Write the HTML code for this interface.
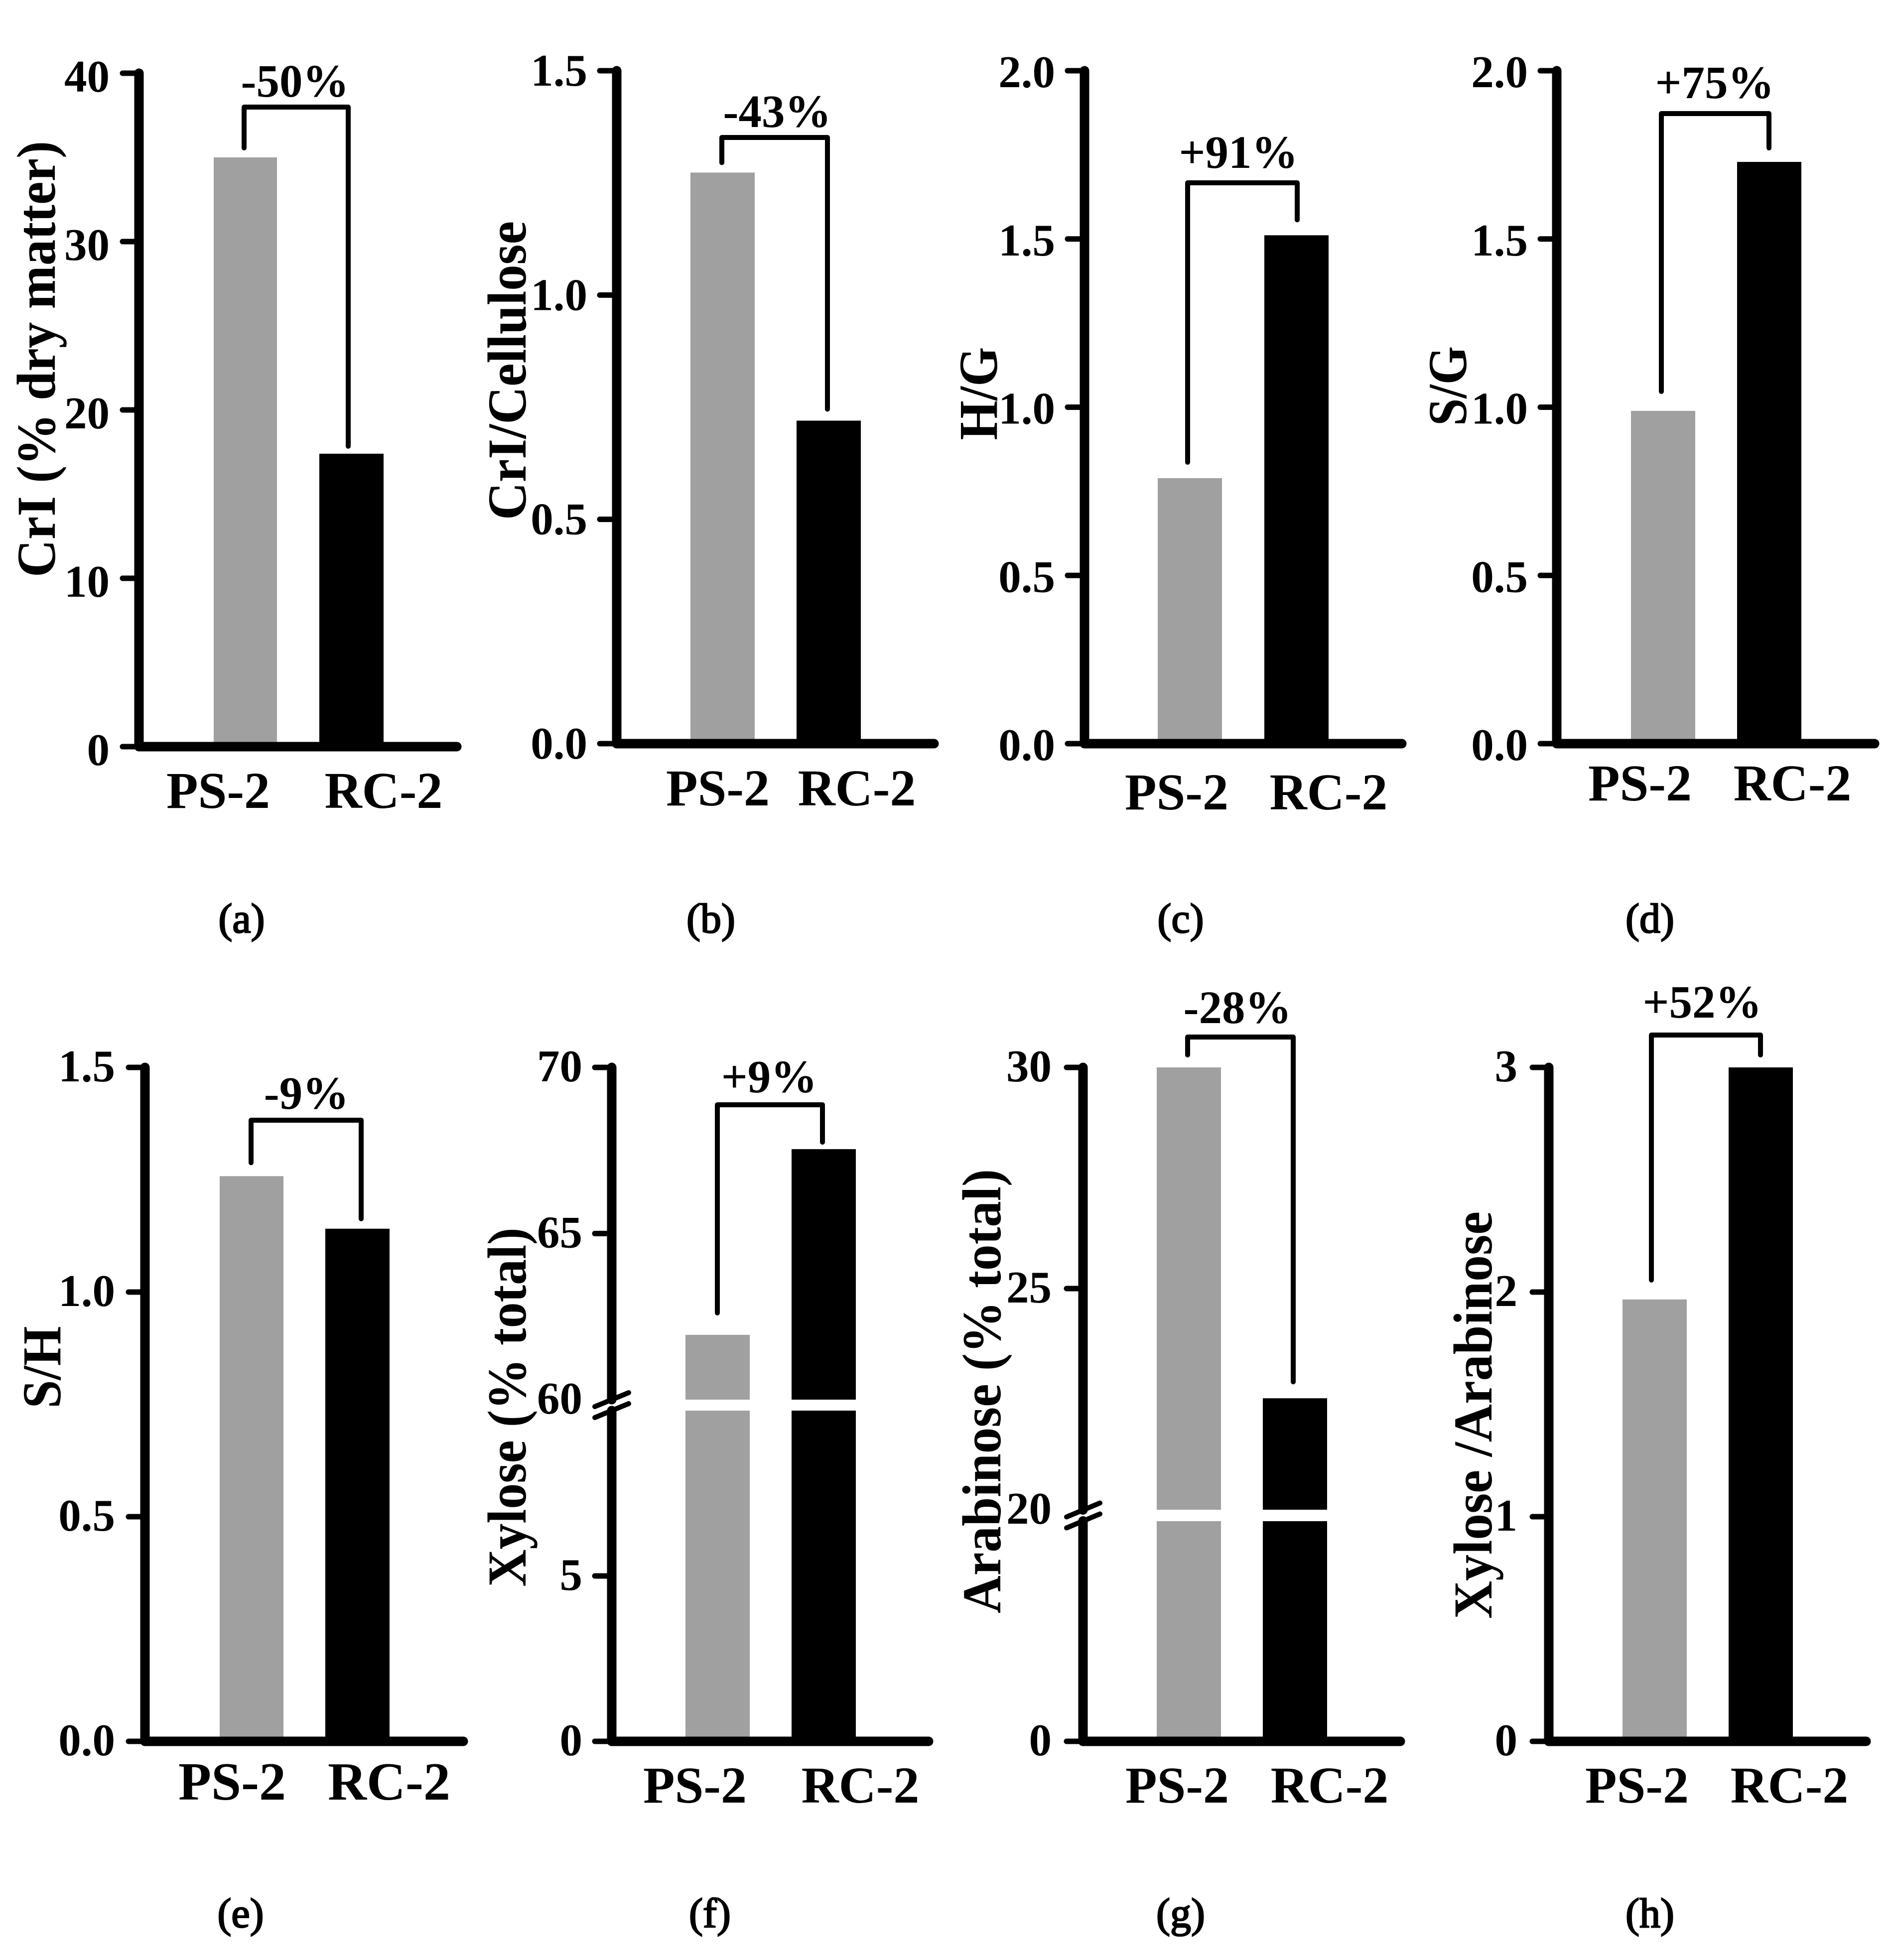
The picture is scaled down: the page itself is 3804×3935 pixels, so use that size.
<!DOCTYPE html>
<html lang="en">
<head>
<meta charset="utf-8">
<title>Biomass feature comparison PS-2 vs RC-2</title>
<style>
html,body{margin:0;padding:0;background:#fff;}
svg{display:block;}
text{font-family:"Liberation Serif",serif;font-weight:bold;fill:#000;}
</style>
</head>
<body>
<svg id="figure" xmlns="http://www.w3.org/2000/svg" width="3804" height="3935" viewBox="0 0 3804 3935"></svg>
<script>
// ---------- Data ----------
const categories = ['PS-2', 'RC-2'];

const crIValues = [35.0, 17.4];
const crITicks = ['0', '10', '20', '30', '40'];
const crIChange = '-50%';

const crICelluloseValues = [1.273, 0.72];
const crICelluloseTicks = ['0.0', '0.5', '1.0', '1.5'];
const crICelluloseChange = '-43%';

const hgValues = [0.789, 1.511];
const hgTicks = ['0.0', '0.5', '1.0', '1.5', '2.0'];
const hgChange = '+91%';

const sgValues = [0.989, 1.729];
const sgTicks = ['0.0', '0.5', '1.0', '1.5', '2.0'];
const sgChange = '+75%';

const shValues = [1.258, 1.141];
const shTicks = ['0.0', '0.5', '1.0', '1.5'];
const shChange = '-9%';

const xyloseValues = [61.95, 67.54];
const xyloseTicks = ['0', '5', '60', '65', '70'];
const xyloseChange = '+9%';

const arabinoseValues = [30, 22.52];
const arabinoseTicks = ['0', '20', '25', '30'];
const arabinoseChange = '-28%';

const xyloseArabinoseValues = [1.967, 3];
const xyloseArabinoseTicks = ['0', '1', '2', '3'];
const xyloseArabinoseChange = '+52%';

// ---------- Layout (pixels only, no data) ----------
const panels = [
  {id:'a', title:'CrI (% dry matter)', values:crIValues, ticks:crITicks, change:crIChange,
   domain:[[0,40]], range:[[1499,147]], axisX:279, axisEnd:917, tickLeft:246, tickRight:220, tickDy:37,
   bars:[[429,556],[641,770]], bracketX:[490,699], bracketY:215, legGap:[14,10],
   changeX:592, changeY:194, catX:[438,770], catY:1622, catSize:104,
   titleX:110, titleY:721, titleLen:876, caption:'(a)', capX:485, capY:1872},
  {id:'b', title:'CrI/Cellulose', values:crICelluloseValues, ticks:crICelluloseTicks, change:crICelluloseChange,
   domain:[[0,1.5]], range:[[1493,142]], axisX:1238, axisEnd:1875, tickLeft:1204, tickRight:1179, tickDy:30,
   bars:[[1386,1515],[1599,1728]], bracketX:[1449,1661], bracketY:276, legGap:[15,18],
   changeX:1560, changeY:255, catX:[1441,1720], catY:1617, catSize:104,
   titleX:1055, titleY:744, titleLen:600, caption:'(b)', capX:1427, capY:1872},
  {id:'c', title:'H/G', values:hgValues, ticks:hgTicks, change:hgChange,
   domain:[[0,2]], range:[[1493,142]], axisX:2177, axisEnd:2814, tickLeft:2143, tickRight:2118, tickDy:33,
   bars:[[2324,2453],[2538,2667]], bracketX:[2384,2604], bracketY:367, legGap:[27,26],
   changeX:2486, changeY:337, catX:[2362,2667], catY:1625, catSize:104,
   titleX:2001, titleY:790, titleLen:187, caption:'(c)', capX:2370, capY:1872},
  {id:'d', title:'S/G', values:sgValues, ticks:sgTicks, change:sgChange,
   domain:[[0,2]], range:[[1493,142]], axisX:3125, axisEnd:3763, tickLeft:3092, tickRight:3067, tickDy:33,
   bars:[[3274,3403],[3487,3616]], bracketX:[3335,3551], bracketY:228, legGap:[34,23],
   changeX:3442, changeY:197, catX:[3292,3598], catY:1607, catSize:104,
   titleX:2943, titleY:775, titleLen:160, caption:'(d)', capX:3312, capY:1872},
  {id:'e', title:'S/H', values:shValues, ticks:shTicks, change:shChange,
   domain:[[0,1.5]], range:[[3496,2143]], axisX:291, axisEnd:930, tickLeft:258, tickRight:231, tickDy:28,
   bars:[[441,569],[653,782]], bracketX:[504,725], bracketY:2249, legGap:[22,15],
   changeX:615, changeY:2226, catX:[466,781], catY:3613, catSize:108,
   titleX:121, titleY:2745, titleLen:165, caption:'(e)', capX:483, capY:3869},
  {id:'f', title:'Xylose (% total)', values:xyloseValues, ticks:xyloseTicks, change:xyloseChange,
   domain:[[0,10],[60,70]], range:[[3496,2832],[2810,2143]], axisX:1228, axisEnd:1864, tickLeft:1194, tickRight:1169, tickDy:28,
   bars:[[1376,1505],[1589,1718]], bracketX:[1440,1651], bracketY:2218, legGap:[39,9],
   changeX:1544, changeY:2193, catX:[1395,1727], catY:3619, catSize:104,
   titleX:1055, titleY:2825, titleLen:721, caption:'(f)', capX:1425, capY:3869},
  {id:'g', title:'Arabinose (% total)', values:arabinoseValues, ticks:arabinoseTicks, change:arabinoseChange,
   domain:[[0,20],[20,30]], range:[[3496,3054],[3031,2143]], axisX:2174, axisEnd:2811, tickLeft:2141, tickRight:2111, tickDy:28,
   bars:[[2322,2451],[2535,2664]], bracketX:[2384,2596], bracketY:2082, legGap:[20,28],
   changeX:2484, changeY:2054, catX:[2363,2669], catY:3619, catSize:104,
   titleX:2008, titleY:2793, titleLen:892, caption:'(g)', capX:2370, capY:3869},
  {id:'h', title:'Xylose /Arabinose', values:xyloseArabinoseValues, ticks:xyloseArabinoseTicks, change:xyloseArabinoseChange,
   domain:[[0,3]], range:[[3496,2143]], axisX:3109, axisEnd:3746, tickLeft:3076, tickRight:3046, tickDy:28,
   bars:[[3257,3386],[3470,3599]], bracketX:[3315,3534], bracketY:2078, legGap:[34,20],
   changeX:3417, changeY:2043, catX:[3286,3592], catY:3619, catSize:104,
   titleX:2994, titleY:2841, titleLen:818, caption:'(h)', capX:3312, capY:3869}
];

const barColors = ['#a0a0a0', '#000000'];
const NS = 'http://www.w3.org/2000/svg';
const figure = document.getElementById('figure');

function svgEl(tag, attrs, parent) {
  const el = document.createElementNS(NS, tag);
  for (const k in attrs) el.setAttribute(k, attrs[k]);
  parent.appendChild(el);
  return el;
}

// Piecewise linear y axis; one segment per unbroken part of the axis.
function makeYScale(domain, range) {
  return function (v) {
    let i = 0;
    for (let s = 0; s < domain.length; s++) if (v >= domain[s][0]) i = s;
    const d = domain[i], r = range[i];
    return r[0] + (v - d[0]) / (d[1] - d[0]) * (r[1] - r[0]);
  };
}

panels.forEach(function (p) {
  const y = makeYScale(p.domain, p.range);
  const broken = p.domain.length > 1;
  const bottom = p.range[0][0];
  const top = p.range[p.range.length - 1][1];
  const breakY = broken ? (p.range[0][1] + p.range[1][0]) / 2 : 0;

  const g = svgEl('g', {}, figure);
  
  

  // Bars
  p.values.forEach(function (v, i) {
    const yTop = y(v);
    const x0 = p.bars[i][0], w = p.bars[i][1] - p.bars[i][0];
    if (broken && v >= p.domain[1][0]) {
      const upper = svgEl('rect', {x:x0, y:yTop, width:w, height:p.range[1][0] - yTop, fill:barColors[i]}, g);
      
      
      const lower = svgEl('rect', {x:x0, y:p.range[0][1], width:w, height:bottom - p.range[0][1], fill:barColors[i]}, g);
      
      
    } else {
      const bar = svgEl('rect', {x:x0, y:yTop, width:w, height:bottom - yTop, fill:barColors[i]}, g);
      
      
    }
  });

  // Axis lines
  const axisStyle = {stroke:'#000', 'stroke-width':19, 'stroke-linecap':'round', fill:'none'};
  if (broken) {
    const yUp = svgEl('line', Object.assign({x1:p.axisX, x2:p.axisX, y1:top, y2:breakY - 11}, axisStyle), g);
    
    
    const yLow = svgEl('line', Object.assign({x1:p.axisX, x2:p.axisX, y1:breakY + 11, y2:bottom}, axisStyle), g);
    
    
    [-11, 11].forEach(function (off) {
      const slash = svgEl('line', {x1:p.tickLeft, x2:p.axisX + 34, y1:breakY + off + 14, y2:breakY + off - 14,
        stroke:'#000', 'stroke-width':10, 'stroke-linecap':'round'}, g);
      
      
    });
  } else {
    const yAxis = svgEl('line', Object.assign({x1:p.axisX, x2:p.axisX, y1:top, y2:bottom}, axisStyle), g);
    
    
  }
  const xAxis = svgEl('line', Object.assign({x1:p.axisX, x2:p.axisEnd, y1:bottom, y2:bottom}, axisStyle), g);
  
  

  // Ticks and tick labels
  p.ticks.forEach(function (t) {
    const v = parseFloat(t);
    const ty = y(v);
    const isBreak = broken && v === p.domain[1][0];
    if (!isBreak) {
      const tick = svgEl('line', {x1:p.tickLeft, x2:p.axisX, y1:ty, y2:ty, stroke:'#000', 'stroke-width':11, 'stroke-linecap':'round'}, g);
      
      
    }
    const lab = svgEl('text', {x:p.tickRight, y:ty + p.tickDy, 'text-anchor':'end', 'font-size':91}, g);
    lab.textContent = t;
    
    
  });

  // Category labels
  categories.forEach(function (c, i) {
    const cat = svgEl('text', {x:p.catX[i], y:p.catY, 'text-anchor':'middle', 'font-size':p.catSize}, g);
    cat.textContent = c;
    
    
  });

  // Y axis title
  const title = svgEl('text', {x:p.titleX, y:p.titleY, 'text-anchor':'middle', 'font-size':110,
    textLength:p.titleLen, lengthAdjust:'spacingAndGlyphs',
    transform:'rotate(-90 ' + p.titleX + ' ' + p.titleY + ')'}, g);
  title.textContent = p.title;
  
  

  // Change bracket: legs follow the bar heights
  const legL = y(p.values[0]) - p.legGap[0] - 5;
  const legR = y(p.values[1]) - p.legGap[1] - 5;
  const bracket = svgEl('path', {
    d:'M' + p.bracketX[0] + ' ' + legL + 'L' + p.bracketX[0] + ' ' + p.bracketY + 'L' + p.bracketX[1] + ' ' + p.bracketY + 'L' + p.bracketX[1] + ' ' + legR,
    fill:'none', stroke:'#000', 'stroke-width':10, 'stroke-linecap':'round', 'stroke-linejoin':'round'}, g);
  
  

  const change = svgEl('text', {x:p.changeX, y:p.changeY, 'text-anchor':'middle', 'font-size':93}, g);
  change.textContent = p.change;
  
  

  // Panel caption
  const cap = svgEl('text', {x:p.capX, y:p.capY, 'text-anchor':'middle', 'font-size':84, style:'font-weight:normal;stroke:#000;stroke-width:2.5'}, g);
  cap.textContent = p.caption;
  
  
});
</script>
</body>
</html>
